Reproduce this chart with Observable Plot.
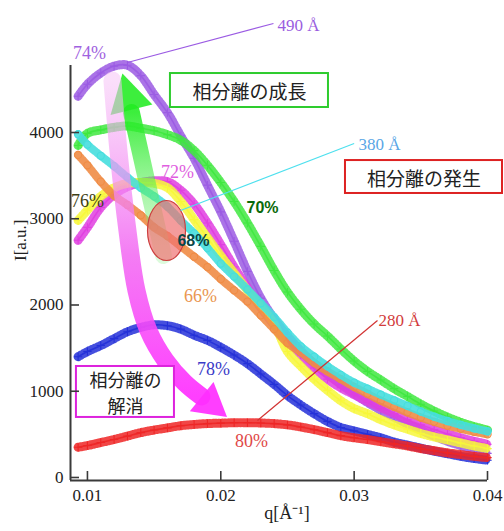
<!DOCTYPE html>
<html>
<head>
<meta charset="utf-8">
<script src="https://cdn.jsdelivr.net/npm/d3@7"></script>
<script src="https://cdn.jsdelivr.net/npm/@observablehq/plot@0.6"></script>
<style>
  body { margin: 0; background: #fff; }
</style>
</head>
<body>
<div id="chart"></div>
<script>
// Scattering vector q [Å^-1]
const q = [0.0093, 0.010, 0.011, 0.012, 0.013, 0.014, 0.015, 0.016, 0.017, 0.018, 0.019, 0.020,
           0.021, 0.022, 0.023, 0.024, 0.025, 0.026, 0.027, 0.028, 0.029, 0.030, 0.031, 0.032,
           0.033, 0.034, 0.035, 0.036, 0.037, 0.038, 0.039, 0.040];

// Scattered intensity I [a.u.] for each composition
const i74 = [4420, 4560, 4690, 4770, 4780, 4660, 4440, 4230, 3960, 3700, 3390, 3080,
             2740, 2390, 2080, 1840, 1640, 1470, 1320, 1200, 1080, 970, 870, 780,
             700, 620, 550, 480, 420, 370, 320, 280];
const i70 = [3850, 3990, 4030, 4060, 4075, 4050, 4020, 3975, 3910, 3790, 3620, 3420,
             3200, 2950, 2680, 2400, 2150, 1950, 1780, 1640, 1490, 1350, 1230, 1130,
             1030, 940, 850, 770, 700, 640, 590, 550];
const i72 = [2750, 2900, 3130, 3280, 3370, 3420, 3440, 3430, 3330, 3170, 2950, 2700,
             2440, 2200, 1970, 1770, 1590, 1420, 1270, 1140, 1040, 960, 880, 810,
             740, 670, 610, 555, 505, 460, 420, 385];
const i76 = [2980, 3100, 3260, 3360, 3410, 3420, 3410, 3360, 3200, 2990, 2780, 2570,
             2370, 2170, 1990, 1780, 1460, 1290, 1140, 1010, 890, 800, 740, 670,
             610, 560, 510, 470, 435, 400, 365, 335];
const i66 = [3740, 3620, 3430, 3270, 3160, 3040, 2900, 2800, 2680, 2560, 2440, 2300,
             2170, 2040, 1880, 1720, 1560, 1450, 1330, 1230, 1140, 1050, 970, 890,
             820, 755, 695, 645, 600, 565, 530, 500];
const i68 = [3980, 3860, 3730, 3610, 3480, 3360, 3260, 3140, 2980, 2830, 2660, 2480,
             2330, 2180, 2020, 1860, 1680, 1520, 1400, 1290, 1190, 1100, 1030, 960,
             895, 830, 765, 705, 655, 610, 570, 535];
const i78 = [1400, 1460, 1530, 1610, 1690, 1740, 1770, 1760, 1720, 1650, 1590, 1510,
             1420, 1320, 1200, 1080, 950, 840, 740, 650, 580, 540, 500, 460,
             410, 375, 340, 305, 275, 245, 220, 200];
const i80 = [350, 370, 405, 440, 480, 520, 550, 575, 600, 615, 625, 630,
             635, 635, 632, 625, 610, 585, 555, 520, 485, 460, 440, 415,
             390, 365, 335, 310, 285, 265, 245, 230];

// Series, in drawing order
const seriesNames   = ["74%", "70%", "72%", "76%", "66%", "68%", "78%", "80%"];
const seriesValues  = [i74, i70, i72, i76, i66, i68, i78, i80];
const seriesColors  = ["#9b5be3", "#3fe83f", "#e03ee0", "#f7f73a", "#f08c45", "#45dede", "#2430d8", "#ee2626"];
const seriesSymbols = ["plus", "plus", "plus", "plus", "circle", "circle", "plus", "plus"];

// Axes
const xDomain = [0.00873, 0.04];
const yDomain = [-35, 4777];
const xTicks = [0.01, 0.02, 0.03, 0.04];
const yTicks = [0, 1000, 2000, 3000, 4000];
const xTitle = "q[Å⁻¹]";
const yTitle = "I[a.u.]";

// Composition labels
const pctText  = ["74%", "72%", "76%", "66%", "78%", "80%"];
const pctQ     = [0.01015, 0.01675, 0.0100, 0.01848, 0.01945, 0.0223];
const pctI     = [4916, 3536, 3200, 2098, 1252, 417];
const pctColor = ["#9f62e0", "#e05ee0", "#3e3e16", "#ea9650", "#3a3ac8", "#e04848"];
const boldText  = ["70%", "68%"];
const boldQ     = [0.02313, 0.01795];
const boldI     = [3130, 2748];
const boldColor = ["#0a6a0a", "#0c4646"];

// Domain size leaders
const sizeText  = ["490 Å", "380 Å", "280 Å"];
const sizeQ     = [0.02425, 0.03033, 0.03183];
const sizeI     = [5241, 3861, 1820];
const sizeColor = ["#9a5ee0", "#5aa6e6", "#d23c3c"];
const leaderQ1  = [0.0130, 0.01698, 0.02275];
const leaderI1  = [4812, 3096, 661];
const leaderQ2  = [0.02395, 0.0300, 0.03175];
const leaderI2  = [5264, 3872, 1820];
const leaderColor = ["#9b5be3", "#4ee0ee", "#d23232"];

// Boxed captions
const boxText  = ["相分離の成長", "相分離の発生", "相分離の\n解消"];
const boxQ1    = [0.016225, 0.02935, 0.009175];
const boxQ2    = [0.028075, 0.041125, 0.016525];
const boxI1    = [4290, 3293, 696];
const boxI2    = [4684, 3675, 1287];
const boxTextQ = [0.02215, 0.03524, 0.01285];
const boxTextI = [4487, 3478, 990];
const boxSize  = [19, 19, 18];
const boxColor = ["#2ecc2e", "#dd2222", "#dd22dd"];

// Big arrows: growth (green) and dissolution (magenta)
const growQ = [0.0157, 0.0133];
const growI = [2574, 4232];
const fadeQ = [0.011875, 0.012325, 0.013, 0.013675, 0.014575, 0.01585, 0.017275, 0.01855];
const fadeI = [4603, 3791, 2864, 2168, 1704, 1357, 1101, 939];
const headQ = [0.013075, 0.0192];
const headI = [4403, 859];
const headRotate = [-14, 129];

// Onset region
const ellQ = [0.01593];
const ellI = [2864];

const rows = seriesNames.flatMap((name, s) =>
  q.map((x, k) => ({name, q: x, I: seriesValues[s][k]})));

function curveMarks(s) {
  const data = rows.filter(d => d.name === seriesNames[s]);
  const color = seriesColors[s];
  const ring = seriesSymbols[s] === "circle";
  const base = {x: "q", y: "I", curve: "catmull-rom"};
  return [
    Plot.line(data, {...base, stroke: color, strokeWidth: ring ? 8 : 9,
      strokeDasharray: ring ? "1.4,1.9" : "1.1,2", strokeOpacity: 0.85}),
    ring
      ? Plot.line(data, {...base, stroke: color, strokeWidth: 8, strokeOpacity: 0.3})
      : Plot.line(data, {...base, stroke: color, strokeWidth: 1.6, strokeOpacity: 0.9}),
    Plot.dot(data, {x: "q", y: "I", symbol: seriesSymbols[s], r: ring ? 3.6 : 2.8,
      stroke: color, strokeWidth: 1.1, fill: "none"})
  ];
}

const ellipse = {
  draw(ctx) {
    const rx = 19, ry = 30, k = 0.5523;
    ctx.moveTo(rx, 0);
    ctx.bezierCurveTo(rx, ry * k, rx * k, ry, 0, ry);
    ctx.bezierCurveTo(-rx * k, ry, -rx, ry * k, -rx, 0);
    ctx.bezierCurveTo(-rx, -ry * k, -rx * k, -ry, 0, -ry);
    ctx.bezierCurveTo(rx * k, -ry, rx, -ry * k, rx, 0);
    ctx.closePath();
  }
};

const idx = (arr) => (d, i) => arr[i];

const svg = Plot.plot({
  width: 504,
  height: 531,
  marginLeft: 70,
  marginRight: 17,
  marginTop: 65,
  marginBottom: 51,
  style: {fontFamily: "'Liberation Serif', serif", fontSize: "17px", color: "#222", background: "#fff"},
  color: {type: "identity"},
  x: {domain: xDomain, ticks: xTicks, tickFormat: d => String(d), tickSize: 0, tickPadding: 8, label: null},
  y: {domain: yDomain, ticks: yTicks, tickFormat: d => String(d), tickSize: 0, tickPadding: 7, label: null},
  marks: [
    // data curves
    ...seriesNames.flatMap((_, s) => curveMarks(s)),

    // arrows
    Plot.line(growQ, {x: d => d, y: idx(growI), stroke: "url(#growGrad)", strokeWidth: 17}),
    Plot.dot([headQ[0]], {x: d => d, y: () => headI[0], symbol: "triangle", r: 16,
      rotate: headRotate[0], fill: "#22ec22", fillOpacity: 0.88, stroke: "none"}),
    Plot.line(fadeQ, {x: d => d, y: idx(fadeI), curve: "catmull-rom", stroke: "url(#fadeGrad)",
      strokeWidth: 18}),
    Plot.dot([headQ[1]], {x: d => d, y: () => headI[1], symbol: "triangle", r: 14,
      rotate: headRotate[1], fill: "#ff2eff", fillOpacity: 0.92, stroke: "none"}),

    // onset ellipse
    Plot.dot(ellQ, {x: d => d, y: idx(ellI), symbol: ellipse, fill: "#f07272", fillOpacity: 0.7,
      stroke: "#cc3f3f", strokeWidth: 1.2}),

    // leaders and their sizes
    Plot.link(leaderQ1, {x1: d => d, y1: idx(leaderI1), x2: idx(leaderQ2), y2: idx(leaderI2),
      stroke: idx(leaderColor), strokeWidth: 1.2}),
    Plot.text(sizeText, {x: idx(sizeQ), y: idx(sizeI), text: d => d, fill: idx(sizeColor),
      textAnchor: "start", fontSize: 17}),

    // composition labels
    Plot.text(pctText, {x: idx(pctQ), y: idx(pctI), text: d => d, fill: idx(pctColor), fontSize: 18}),
    Plot.text(boldText, {x: idx(boldQ), y: idx(boldI), text: d => d, fill: idx(boldColor),
      fontFamily: "'Liberation Sans', sans-serif", fontWeight: "bold", fontSize: 16}),

    // boxed captions
    Plot.rect(boxText, {x1: idx(boxQ1), x2: idx(boxQ2), y1: idx(boxI1), y2: idx(boxI2),
      fill: "#fff", stroke: idx(boxColor), strokeWidth: 2}),
    Plot.text(boxText, {x: idx(boxTextQ), y: idx(boxTextI), text: d => d, fill: "#222",
      fontFamily: "'Noto Sans CJK JP', sans-serif", fontSize: idx(boxSize), lineHeight: 1.45}),

    // axis frame, inward ticks and titles
    Plot.ruleX([xDomain[0]], {y1: yDomain[0], y2: yDomain[1], stroke: "#3a3a3a", strokeWidth: 2}),
    Plot.ruleY([yDomain[0]], {x1: xDomain[0], x2: xDomain[1], stroke: "#3a3a3a", strokeWidth: 2}),
    Plot.tickY(yTicks, {y: d => d, insetRight: 408, stroke: "#3a3a3a", strokeWidth: 1.6}),
    Plot.tickX(xTicks, {x: d => d, insetTop: 406, stroke: "#3a3a3a", strokeWidth: 1.6}),
    Plot.text([yTitle], {frameAnchor: "left", dx: -50, dy: -12, rotate: -90, text: d => d,
      fill: "#222", fontSize: 17}),
    Plot.text([xTitle], {frameAnchor: "bottom", dx: 8, dy: 38, text: d => d, fill: "#222", fontSize: 18})
  ]
});

const defs = d3.select(svg).insert("defs", ":first-child");
const grow = defs.append("linearGradient").attr("id", "growGrad")
  .attr("x1", 0).attr("y1", 0).attr("x2", 0).attr("y2", 1);
grow.append("stop").attr("offset", 0).attr("stop-color", "#22ec22").attr("stop-opacity", 0.88);
grow.append("stop").attr("offset", 1).attr("stop-color", "#8cf08c").attr("stop-opacity", 0.3);
const fade = defs.append("linearGradient").attr("id", "fadeGrad")
  .attr("x1", 0).attr("y1", 0).attr("x2", 0).attr("y2", 1);
fade.append("stop").attr("offset", 0).attr("stop-color", "#f6c4f6").attr("stop-opacity", 0.55);
fade.append("stop").attr("offset", 0.55).attr("stop-color", "#f266f2").attr("stop-opacity", 0.85);
fade.append("stop").attr("offset", 1).attr("stop-color", "#ff2eff").attr("stop-opacity", 0.92);

document.getElementById("chart").append(svg);
</script>
</body>
</html>
